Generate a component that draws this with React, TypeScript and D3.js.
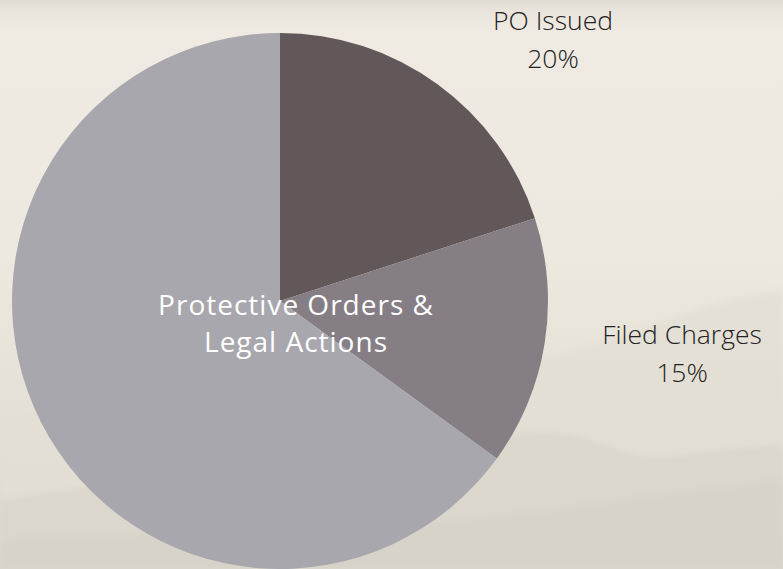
import React from "react";
import * as d3 from "d3";

const categories = ["PO Issued", "Filed Charges", "Other"];
const values = [20, 15, 65];
const pctLabels = ["20%", "15%", ""];
const colors = ["#625759", "#857e85", "#a8a7ad"];
const centerTitle = ["Protective Orders &", "Legal Actions"];

const W = 783;
const H = 569;

export default function App() {
  const cx = 280;
  const cy = 301;
  const r = 268;
  const pie = d3.pie<number>().sort(null).value((d) => d);
  const arcs = pie(values);
  const arc = d3.arc<d3.PieArcDatum<number>>().innerRadius(0).outerRadius(r);
  const labelPos: [number, number][] = [
    [553, 30],
    [682, 344],
    [0, 0],
  ];

  const ridge = (pts: [number, number][]) =>
    d3.line().curve(d3.curveBasis)(pts) + `L${W},${H}L0,${H}Z`;

  return (
    <div style={{ position: "fixed", left: 0, top: 0, width: W, height: H }}>
      <svg width={W} height={H} viewBox={`0 0 ${W} ${H}`}>
        <defs>
          <linearGradient id="bg" x1="0" y1="0" x2="0" y2="1">
            <stop offset="0" stopColor="#efebe3" />
            <stop offset="0.45" stopColor="#ede9df" />
            <stop offset="1" stopColor="#dcd7cc" />
          </linearGradient>
          <linearGradient id="topmist" x1="0" y1="0" x2="0" y2="1">
            <stop offset="0" stopColor="#e2ddd4" />
            <stop offset="1" stopColor="#efebe3" stopOpacity="0" />
          </linearGradient>
          <filter id="blur" x="-10%" y="-10%" width="120%" height="120%">
            <feGaussianBlur stdDeviation="3" />
          </filter>
        </defs>
        <rect width={W} height={H} fill="url(#bg)" />
        <rect width={W} height={40} fill="url(#topmist)" />
        <g filter="url(#blur)">
          <path
            d={ridge([
              [0, 420],
              [120, 400],
              [300, 390],
              [520, 370],
              [640, 330],
              [720, 300],
              [783, 290],
            ])}
            fill="#e3dfd5"
            opacity={0.8}
          />
          <path
            d={ridge([
              [0, 500],
              [200, 470],
              [450, 450],
              [560, 420],
              [640, 465],
              [700, 450],
              [783, 445],
            ])}
            fill="#d9d4c9"
            opacity={0.7}
          />
          <path
            d={ridge([
              [0, 540],
              [250, 530],
              [500, 520],
              [620, 500],
              [783, 480],
            ])}
            fill="#d6d1c6"
            opacity={0.6}
          />
        </g>
        <g transform={`translate(${cx},${cy})`}>
          {arcs.map((a, i) => (
            <path key={categories[i]} d={arc(a) || ""} fill={colors[i]} />
          ))}
        </g>
        {arcs.map((a, i) =>
          pctLabels[i] ? (
            <text
              key={"l" + i}
              x={labelPos[i][0]}
              y={labelPos[i][1]}
              textAnchor="middle"
              fontFamily="'Open Sans', sans-serif"
              fontWeight={300}
              fontSize={26.5}
              fill="#222"
            >
              <tspan x={labelPos[i][0]}>{categories[i]}</tspan>
              <tspan x={labelPos[i][0]} dy={38}>
                {pctLabels[i]}
              </tspan>
            </text>
          ) : null
        )}
        <text
          x={296}
          y={315}
          textAnchor="middle"
          fontFamily="'Open Sans', sans-serif"
          fontWeight={500}
          fontSize={28}
          letterSpacing={1}
          fill="#ffffff"
        >
          <tspan x={296}>{centerTitle[0]}</tspan>
          <tspan x={296} dy={37}>
            {centerTitle[1]}
          </tspan>
        </text>
      </svg>
    </div>
  );
}
